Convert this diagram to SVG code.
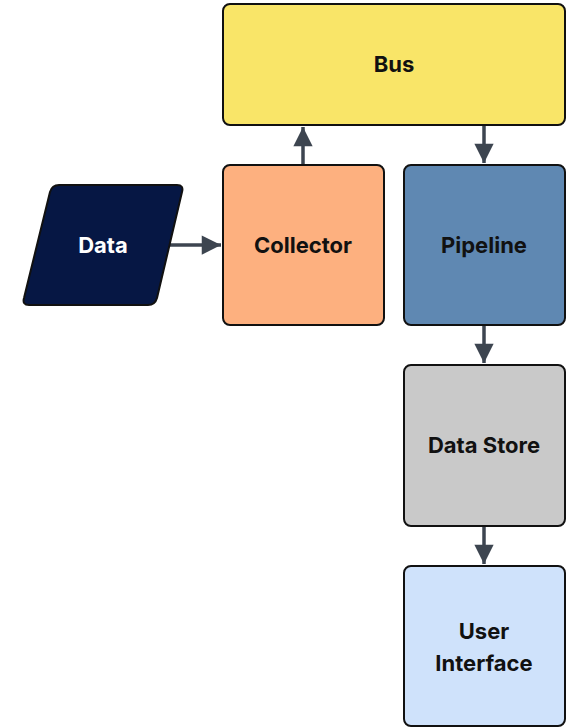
<svg xmlns="http://www.w3.org/2000/svg" width="571" height="728" viewBox="0 0 571 728">
<defs>
<marker id="arr" viewBox="0 0 10 10" refX="10" refY="5" markerWidth="6" markerHeight="5.5" markerUnits="strokeWidth" orient="auto">
<path d="M0,0 L10,5 L0,10 z" fill="#3d4550"/>
</marker>
<style>
.box{stroke:#111;stroke-width:2}
.lbl{font-family:Inter,"Liberation Sans",sans-serif;font-weight:700;font-size:22px;text-anchor:middle;dominant-baseline:central;fill:#111}
.edge{stroke:#3d4550;stroke-width:3.5;fill:none;marker-end:url(#arr)}
</style>
</defs>
<rect width="571" height="728" fill="#fff"/>
<g id="connectors">
<path class="edge" d="M167,245 L221,245"/>
<path class="edge" d="M303,165 L303,127"/>
<path class="edge" d="M484,125 L484,163"/>
<path class="edge" d="M484,325 L484,363"/>
<path class="edge" d="M484,526 L484,564"/>
</g>
<g id="bus">
<rect class="box" x="223" y="4" width="342" height="121" rx="7" fill="#f9e568"/>
<text class="lbl" x="394" y="64">Bus</text>
</g>
<g id="data">
<path class="box" d="M59,185 L177,185 Q184,185 182,192 L157,298 Q155,305 148,305 L29,305 Q22,305 24,298 L50,192 Q52,185 59,185 Z" fill="#061744"/>
<text class="lbl" x="103" y="245" style="fill:#fff">Data</text>
</g>
<g id="collector">
<rect class="box" x="223" y="165" width="161" height="160" rx="7" fill="#fdb07f"/>
<text class="lbl" x="303" y="245">Collector</text>
</g>
<g id="pipeline">
<rect class="box" x="404" y="165" width="161" height="160" rx="7" fill="#5f88b2"/>
<text class="lbl" x="484" y="245">Pipeline</text>
</g>
<g id="datastore">
<rect class="box" x="404" y="365" width="161" height="161" rx="7" fill="#c9c9c9"/>
<text class="lbl" x="484" y="445">Data Store</text>
</g>
<g id="ui">
<rect class="box" x="404" y="566" width="161" height="160" rx="7" fill="#cfe2fb"/>
<text class="lbl" x="484" y="631">User</text>
<text class="lbl" x="484" y="663">Interface</text>
</g>
</svg>
